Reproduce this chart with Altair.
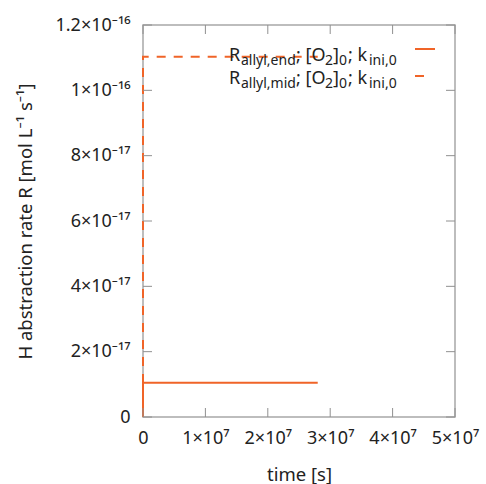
import altair as alt
import pandas as pd

# ---- data ----
time_end = [0.0, 0.0, 2.80e7]
rate_end = [0.0, 1.05e-17, 1.05e-17]
time_mid = [0.0, 0.0, 2.80e7]
rate_mid = [0.0, 1.103e-16, 1.103e-16]

x_ticks = [0, 1e7, 2e7, 3e7, 4e7, 5e7]
x_labels = ["0", "1×10⁷", "2×10⁷", "3×10⁷", "4×10⁷", "5×10⁷"]
y_ticks = [0, 2e-17, 4e-17, 6e-17, 8e-17, 1e-16, 1.2e-16]
y_labels = ["0", "2×10⁻¹⁷", "4×10⁻¹⁷", "6×10⁻¹⁷", "8×10⁻¹⁷", "1×10⁻¹⁶", "1.2×10⁻¹⁶"]

x_title = "time [s]"
y_title = "H abstraction rate R [mol L⁻¹ s⁻¹]"

# legend text pieces: (text, is_subscript)
legend_row1 = [("R", False), ("allyl,end", True), ("; [O", False), ("2", True),
               ("]", False), ("0", True), ("; k", False), ("ini,0", True)]
legend_row2 = [("R", False), ("allyl,mid", True), ("; [O", False), ("2", True),
               ("]", False), ("0", True), ("; k", False), ("ini,0", True)]

W, H = 312, 392
ORANGE = "#f06428"
FONT = "Noto Sans"
TXT = "#222222"

df = pd.DataFrame({
    "time": time_end + time_mid,
    "rate": rate_end + rate_mid,
    "series": ["end"] * len(time_end) + ["mid"] * len(time_mid),
    "order": list(range(len(time_end))) + list(range(len(time_mid))),
})

xs = alt.Scale(domain=[0, 5e7], nice=False, zero=False)
ys = alt.Scale(domain=[0, 1.2e-16], nice=False, zero=False)

x_expr = "[" + ",".join(f"'{s}'" for s in x_labels) + "][round(datum.value/1e7)]"
y_expr = "[" + ",".join(f"'{s}'" for s in y_labels) + "][round(datum.value/2e-17)]"

base = alt.Chart(df).encode(
    x=alt.X("time:Q", scale=xs,
            axis=alt.Axis(values=x_ticks, labelExpr=x_expr, title=x_title,
                          grid=False, domain=False, ticks=False,
                          labelPadding=12, titlePadding=18, labelFlush=False,
                          labelFont=FONT, titleFont=FONT, labelFontSize=18,
                          titleFontSize=18.5, labelColor=TXT, titleColor=TXT,
                          titleFontWeight="normal")),
    y=alt.Y("rate:Q", scale=ys,
            axis=alt.Axis(values=y_ticks, labelExpr=y_expr, title=y_title,
                          grid=False, domain=False, ticks=False,
                          labelPadding=13, titlePadding=20, labelFlush=False,
                          labelFont=FONT, titleFont=FONT, labelFontSize=18,
                          titleFontSize=18.5, labelColor=TXT, titleColor=TXT,
                          titleFontWeight="normal")),
    order="order:Q",
)

line_end = base.transform_filter("datum.series == 'end'").mark_line(
    color=ORANGE, strokeWidth=2)
line_mid = base.transform_filter("datum.series == 'mid'").mark_line(
    color=ORANGE, strokeWidth=2, strokeDash=[9, 8])

xt = pd.DataFrame({"t": x_ticks})
yt = pd.DataFrame({"v": y_ticks})
TICK = "#909090"
xtick_b = alt.Chart(xt).mark_rule(color=TICK, strokeWidth=1).encode(
    x=alt.X("t:Q", scale=xs), y=alt.value(H), y2=alt.value(H - 9))
xtick_t = alt.Chart(xt).mark_rule(color=TICK, strokeWidth=1).encode(
    x=alt.X("t:Q", scale=xs), y=alt.value(0), y2=alt.value(9))
ytick_l = alt.Chart(yt).mark_rule(color=TICK, strokeWidth=1).encode(
    y=alt.Y("v:Q", scale=ys), x=alt.value(0), x2=alt.value(9))
ytick_r = alt.Chart(yt).mark_rule(color=TICK, strokeWidth=1).encode(
    y=alt.Y("v:Q", scale=ys), x=alt.value(W), x2=alt.value(W - 9))

# legend built from text pieces (plot-area pixel coords)
OX, OY = 143, 25
row_x = [229, 241, 296, 325, 333, 339, 348, 369]
legend_layers = []
for row, base_y in ((legend_row1, 61), (legend_row2, 84)):
    for (txt, sub), px in zip(row, row_x):
        legend_layers.append(
            alt.Chart(pd.DataFrame({"s": [txt]})).mark_text(
                align="left", baseline="alphabetic", font=FONT,
                fontSize=14 if sub else 18, color=TXT,
            ).encode(text="s:N", x=alt.value(px - OX),
                     y=alt.value(base_y + (4 if sub else 0) - OY))
        )

sample_solid = alt.Chart(pd.DataFrame({"a": [0]})).mark_rule(
    color=ORANGE, strokeWidth=2).encode(
    x=alt.value(415 - OX), x2=alt.value(435 - OX), y=alt.value(49 - OY))
sample_dash = alt.Chart(pd.DataFrame({"a": [0]})).mark_rule(
    color=ORANGE, strokeWidth=2).encode(
    x=alt.value(415 - OX), x2=alt.value(424 - OX), y=alt.value(76 - OY))

chart = alt.layer(
    line_end, line_mid, xtick_b, xtick_t, ytick_l, ytick_r,
    *legend_layers, sample_solid, sample_dash,
).properties(
    width=W, height=H,
    background="white",
    autosize=alt.AutoSizeParams(type="none"),
    padding={"left": OX, "top": OY, "right": 486 - OX - W, "bottom": 484 - OY - H},
).configure_view(
    stroke="#a8a8a8", strokeWidth=1.5,
)

chart.save("out.html", embed_options={"renderer": "svg", "actions": False})
